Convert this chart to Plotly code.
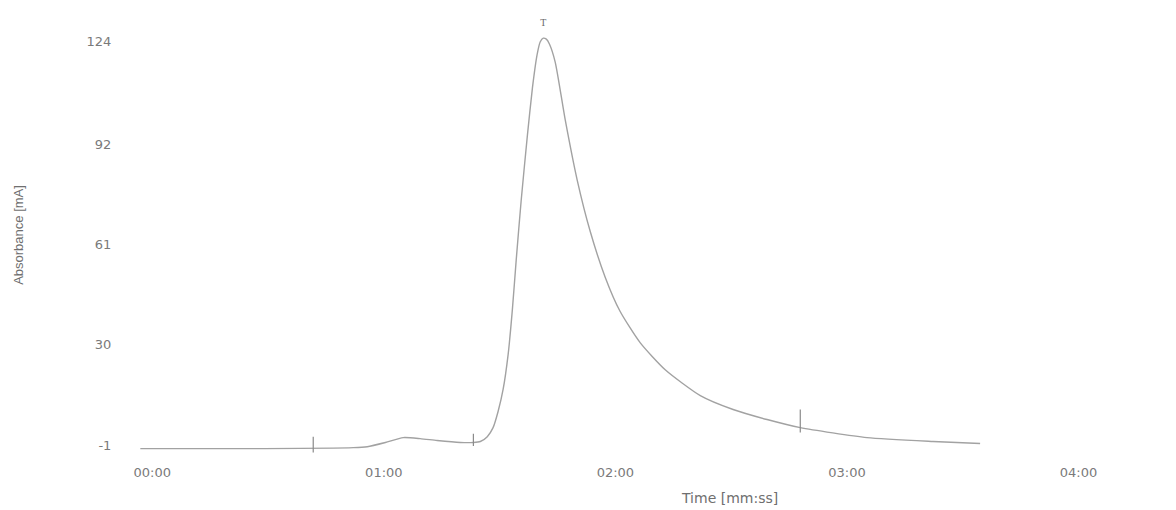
import plotly.graph_objects as go

# Chromatogram trace (time in seconds, absorbance in mA)
time_s = [-3.1, 25.4, 52.1, 55.7, 60.4, 65.0, 69.4, 73.8, 79.8,
          83.2, 85.0, 86.8, 88.3, 89.6, 90.9, 92.2, 93.3, 94.3, 95.6, 97.2, 98.5,
          99.7, 100.5, 101.3, 102.1, 102.9, 104.4, 107.0, 110.1, 113.5, 117.4,
          121.2, 126.4, 132.9, 142.0, 150.5, 159.3, 167.9, 185.2, 202.3, 214.5]
absorbance = [-2.1, -2.1, -1.8, -1.5, -0.2, 1.3, 1.0, 0.4, -0.2,
              -0.2, 0.1, 1.6, 4.4, 9.4, 16.2, 27.0, 40.9, 56.3, 74.9, 94.9, 109.5,
              119.7, 123.7, 124.9, 124.6, 123.1, 117.5, 99.6, 81.0, 65.0, 50.8,
              40.4, 30.7, 22.3, 14.3, 10.0, 6.9, 4.4, 1.3, 0.1, -0.5]

# Integration marks (time, bottom, top)
mark_times = [41.7, 83.2, 167.9]
mark_low = [-3.3, -1.3, 2.9]
mark_high = [1.6, 2.5, 10.0]

# Peak label
peak_time = [101.3]
peak_label_y = [129.5]

y_tick_vals = [-1, 30, 61, 92, 124]
y_tick_text = ["-1", "30", "61", "92", "124"]
x_tick_vals = [0, 60, 120, 180, 240]
x_tick_text = ["00:00", "01:00", "02:00", "03:00", "04:00"]

grey = "#a2a2a2"
text_grey = "#7a7a7a"

fig = go.Figure()
fig.add_trace(go.Scatter(x=time_s, y=absorbance, mode="lines",
                         line=dict(color=grey, width=1.4, shape="spline", smoothing=0.6),
                         showlegend=False, hoverinfo="skip"))

for t, lo, hi in zip(mark_times, mark_low, mark_high):
    fig.add_trace(go.Scatter(x=[t, t], y=[lo, hi], mode="lines",
                             line=dict(color="#8a8a8a", width=1.2),
                             showlegend=False, hoverinfo="skip"))

fig.add_trace(go.Scatter(x=peak_time, y=peak_label_y, mode="text", text=["T"],
                         textfont=dict(size=10, color="#6a6a6a", family="Liberation Serif"),
                         showlegend=False, hoverinfo="skip"))

fig.update_layout(
    width=1176, height=510,
    margin=dict(l=133, r=1, t=12, b=51.5),
    paper_bgcolor="white", plot_bgcolor="white",
    font=dict(family="DejaVu Sans", size=13, color=text_grey),
    xaxis=dict(range=[-5, 265], tickvals=x_tick_vals, ticktext=x_tick_text,
               showgrid=False, zeroline=False, showline=False,
               ticks="outside", ticklen=2, tickcolor="rgba(0,0,0,0)",
               tickfont=dict(size=13, color=text_grey),
               automargin=False),
    yaxis=dict(range=[-5, 133], tickvals=y_tick_vals, ticktext=y_tick_text,
               showgrid=False, zeroline=False, showline=False,
               ticks="outside", ticklen=18, tickcolor="rgba(0,0,0,0)",
               tickfont=dict(size=13, color=text_grey),
               title=dict(text="Absorbance [mA]", standoff=60,
                          font=dict(size=13, color="#6f6f6f", family="Liberation Sans")),
               automargin=False),
    annotations=[dict(text="Time [mm:ss]", xref="paper", yref="paper",
                      x=(729 - 133) / (1176 - 134), y=-(499 - 458.5) / 446.5,
                      xanchor="center", yanchor="middle", showarrow=False,
                      font=dict(size=14, color="#6f6f6f", family="DejaVu Sans"))],
)

fig.write_html("out.html")
